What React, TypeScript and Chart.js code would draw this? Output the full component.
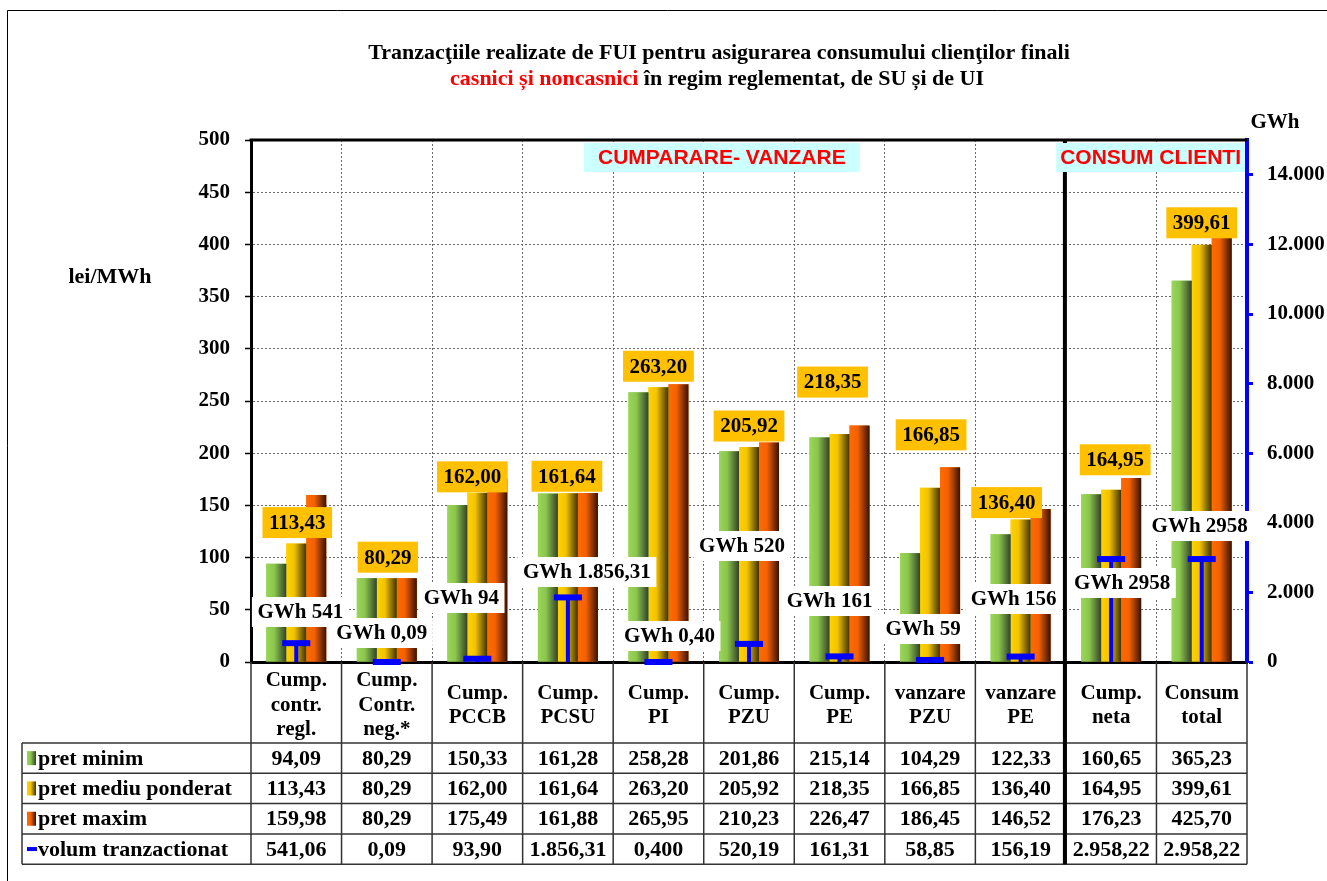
import React, { useEffect, useRef } from 'react';
import { Chart, registerables } from 'chart.js';

Chart.register(...registerables);

// ---------------- DATA ----------------
const categories: string[][] = [
  ['Cump.', 'contr.', 'regl.'],
  ['Cump.', 'Contr.', 'neg.*'],
  ['Cump.', 'PCCB'],
  ['Cump.', 'PCSU'],
  ['Cump.', 'PI'],
  ['Cump.', 'PZU'],
  ['Cump.', 'PE'],
  ['vanzare', 'PZU'],
  ['vanzare', 'PE'],
  ['Cump.', 'neta'],
  ['Consum', 'total'],
];
const pretMinim = [94.09, 80.29, 150.33, 161.28, 258.28, 201.86, 215.14, 104.29, 122.33, 160.65, 365.23];
const pretMediu = [113.43, 80.29, 162.0, 161.64, 263.2, 205.92, 218.35, 166.85, 136.4, 164.95, 399.61];
const pretMaxim = [159.98, 80.29, 175.49, 161.88, 265.95, 210.23, 226.47, 186.45, 146.52, 176.23, 425.7];
const volum = [541.06, 0.09, 93.9, 1856.31, 0.4, 520.19, 161.31, 58.85, 156.19, 2958.22, 2958.22];
const volumTableLabels = ['541,06', '0,09', '93,90', '1.856,31', '0,400', '520,19', '161,31', '58,85', '156,19', '2.958,22', '2.958,22'];
const volumBoxLabels = ['GWh 541', 'GWh 0,09', 'GWh 94', 'GWh 1.856,31', 'GWh 0,40', 'GWh 520', 'GWh 161', 'GWh 59', 'GWh 156', 'GWh 2958', 'GWh 2958'];
const seriesNames = ['pret minim', 'pret mediu ponderat', 'pret maxim', 'volum tranzactionat'];
const rightTicks = [0, 2000, 4000, 6000, 8000, 10000, 12000, 14000];
const leftAxisTitle = 'lei/MWh';
const rightAxisTitle = 'GWh';
const titleLine1 = 'Tranzacţiile realizate de FUI pentru asigurarea consumului clienţilor finali';
const titleLine2Red = 'casnici și noncasnici';
const titleLine2Black = ' în regim reglementat, de SU și de UI';
const sectionHeaders = [
  { text: 'CUMPARARE- VANZARE', at: 4.7 },
  { text: 'CONSUM CLIENTI', at: 9.45 },
];

// ---------------- LAYOUT / STYLE (not data) ----------------
// label offsets in px: [dx from category centre, dy from top of "mediu" bar]
const priceLabelOffsets = [[1, -21], [1, -21], [-5, -16], [-1, -17], [0, -21], [0, -21], [-7, -52], [1, -53], [-14, -17], [4, -30], [0, -22]];
// GWh label offsets in px: [dx from category centre, dy from axis base]
const volumLabelOffsets = [[4, -50], [-5, -29], [-16, -64], [19, -90], [11, -26], [-7, -116], [-10, -61], [-7, -33], [-7, -63], [11, -79], [-2, -136]];

const BASE_COLORS = ['#92D050', '#FFCC00', '#FF6600'];
const GRAD_STOPS = [
  ['#9AD657', '#8BC64D', '#34412A'],
  ['#FFD200', '#F3C300', '#3E3200'],
  ['#FF6A00', '#F46100', '#381100'],
];
const SERIF = '"Liberation Serif", "Times New Roman", serif';
const SANS = '"Liberation Sans", Arial, sans-serif';

function fmt(v: number, d = 2): string {
  const [i, f] = v.toFixed(d).split('.');
  return i.replace(/\B(?=(\d{3})+(?!\d))/g, '.') + (f ? ',' + f : '');
}

function grad(ctx: CanvasRenderingContext2D, x0: number, x1: number, stops: string[]) {
  const g = ctx.createLinearGradient(x0, 0, x1, 0);
  g.addColorStop(0, stops[0]);
  g.addColorStop(0.4, stops[1]);
  g.addColorStop(1, stops[2]);
  return g;
}

function textBox(ctx: CanvasRenderingContext2D, text: string, cx: number, cy: number, fill: string, padX: number, h: number) {
  const w = ctx.measureText(text).width + padX * 2;
  ctx.fillStyle = fill;
  ctx.fillRect(cx - w / 2, cy - h / 2, w, h);
  ctx.fillStyle = '#000';
  ctx.fillText(text, cx, cy + 1);
}

const decorPlugin = {
  id: 'decor',
  beforeDraw(chart: any) {
    const ctx = chart.ctx as CanvasRenderingContext2D;
    ctx.save();
    ctx.fillStyle = '#fff';
    ctx.fillRect(0, 0, chart.width, chart.height);
    ctx.strokeStyle = '#000';
    ctx.lineWidth = 1;
    ctx.beginPath();
    ctx.moveTo(7.5, chart.height);
    ctx.lineTo(7.5, 10.5);
    ctx.lineTo(chart.width, 10.5);
    ctx.stroke();
    ctx.restore();
  },
  beforeDatasetDraw(chart: any, args: any) {
    const meta = args.meta;
    if (meta.type !== 'line') return;
    const ctx = chart.ctx as CanvasRenderingContext2D;
    const y0 = chart.scales.y2.getPixelForValue(0);
    ctx.save();
    ctx.strokeStyle = '#0000FF';
    ctx.lineWidth = 4;
    meta.data.forEach((pt: any) => {
      const { x, y } = pt.getProps(['x', 'y'], true);
      ctx.beginPath();
      ctx.moveTo(x, y);
      ctx.lineTo(x, y0);
      ctx.stroke();
    });
    ctx.restore();
  },
  afterDatasetDraw(chart: any, args: any) {
    const meta = args.meta;
    if (meta.type !== 'bar') return;
    const ds = chart.data.datasets[args.index];
    const si = seriesNames.indexOf(ds.label);
    const stops = GRAD_STOPS[si];
    if (!stops) return;
    const ctx = chart.ctx as CanvasRenderingContext2D;
    ctx.save();
    meta.data.forEach((el: any) => {
      const { x, y, base, width } = el.getProps(['x', 'y', 'base', 'width'], true);
      const l = x - width / 2;
      ctx.fillStyle = grad(ctx, l, l + width, stops);
      ctx.fillRect(l, Math.min(y, base), width, Math.abs(base - y));
    });
    ctx.restore();
  },
  afterDraw(chart: any) {
    const ctx = chart.ctx as CanvasRenderingContext2D;
    const { chartArea } = chart;
    const xs = chart.scales.x;
    const ys = chart.scales.y;
    const n = categories.length;
    const cw = (xs.right - xs.left) / n;
    ctx.save();

    // top frame line
    ctx.strokeStyle = '#000';
    ctx.lineWidth = 3;
    ctx.beginPath();
    ctx.moveTo(chartArea.left - 1.5, chartArea.top);
    ctx.lineTo(chartArea.right, chartArea.top);
    ctx.stroke();

    // ---- table ----
    const top = chartArea.bottom;
    const catBottom = top + 81;
    const rowH = 30.3;
    const tableBottom = catBottom + rowH * 4;
    const tableLeft = 22;
    ctx.strokeStyle = '#333';
    ctx.lineWidth = 1.5;
    for (let k = 0; k <= 4; k++) {
      const yy = catBottom + k * rowH;
      ctx.beginPath();
      ctx.moveTo(tableLeft, yy);
      ctx.lineTo(xs.right, yy);
      ctx.stroke();
    }
    for (let i = 0; i <= n; i++) {
      const xx = xs.left + i * cw;
      ctx.beginPath();
      ctx.moveTo(xx, top);
      ctx.lineTo(xx, tableBottom);
      ctx.stroke();
    }
    ctx.beginPath();
    ctx.moveTo(tableLeft, catBottom);
    ctx.lineTo(tableLeft, tableBottom);
    ctx.stroke();

    // separator between sections
    ctx.strokeStyle = '#000';
    ctx.lineWidth = 4;
    const sepX = xs.left + 9 * cw - 1;
    ctx.beginPath();
    ctx.moveTo(sepX, chartArea.top);
    ctx.lineTo(sepX, tableBottom);
    ctx.stroke();

    // category labels
    ctx.fillStyle = '#000';
    ctx.textAlign = 'center';
    ctx.textBaseline = 'middle';
    ctx.font = `bold 21px ${SERIF}`;
    const catMid = top + 42.5;
    const lh = 24.5;
    categories.forEach((lines, i) => {
      const cx = xs.getPixelForValue(i);
      lines.forEach((ln, j) => {
        ctx.fillText(ln, cx, catMid + (j - (lines.length - 1) / 2) * lh + 1);
      });
    });

    // rows
    const rows: string[][] = [
      pretMinim.map((v) => fmt(v)),
      pretMediu.map((v) => fmt(v)),
      pretMaxim.map((v) => fmt(v)),
      volumTableLabels,
    ];
    ctx.font = `bold 22px ${SERIF}`;
    rows.forEach((vals, r) => {
      const cy = catBottom + rowH * (r + 0.5);
      if (r < 3) {
        ctx.fillStyle = grad(ctx, 27, 36, GRAD_STOPS[r]);
        ctx.fillRect(27, cy - 7, 9, 14);
      } else {
        ctx.fillStyle = '#0000FF';
        ctx.fillRect(27, cy - 2, 10, 4);
      }
      ctx.fillStyle = '#000';
      ctx.textAlign = 'left';
      ctx.fillText(seriesNames[r], 38, cy + 1);
      ctx.textAlign = 'center';
      vals.forEach((t, i) => {
        ctx.fillText(t, xs.getPixelForValue(i), cy + 1);
      });
    });

    // section headers
    ctx.font = `bold 21px ${SANS}`;
    sectionHeaders.forEach((h, idx) => {
      const w = ctx.measureText(h.text).width + (idx === 0 ? 28 : 8);
      let cx = xs.getPixelForValue(h.at);
      if (cx + w / 2 > chartArea.right - 2) cx = chartArea.right - 2 - w / 2;
      const by = chartArea.top + 3;
      ctx.fillStyle = '#CCFFFF';
      ctx.fillRect(cx - w / 2, by, w, 29);
      ctx.fillStyle = '#FF0000';
      ctx.fillText(h.text, cx, by + 15.5);
    });

    // price labels
    ctx.font = `bold 21px ${SERIF}`;
    pretMediu.forEach((v, i) => {
      const cx = xs.getPixelForValue(i) + priceLabelOffsets[i][0];
      const cy = ys.getPixelForValue(v) + priceLabelOffsets[i][1];
      textBox(ctx, fmt(v), cx, cy, '#FFC000', 6.5, 31);
    });

    // volume labels
    volumBoxLabels.forEach((t, i) => {
      const cx = xs.getPixelForValue(i) + volumLabelOffsets[i][0];
      const cy = chartArea.bottom + volumLabelOffsets[i][1];
      textBox(ctx, t, cx, cy, '#FFFFFF', 5.5, 30);
    });

    // axis titles
    ctx.fillStyle = '#000';
    ctx.font = `bold 22px ${SERIF}`;
    ctx.fillText(leftAxisTitle, 110, 277);
    ctx.font = `bold 21px ${SERIF}`;
    ctx.fillText(rightAxisTitle, 1275, 123);

    // title
    ctx.font = `bold 22px ${SERIF}`;
    ctx.fillText(titleLine1, 719, 53);
    const wr = ctx.measureText(titleLine2Red).width;
    const wb = ctx.measureText(titleLine2Black).width;
    const sx = 717 - (wr + wb) / 2;
    ctx.textAlign = 'left';
    ctx.fillStyle = '#FF0000';
    ctx.fillText(titleLine2Red, sx, 79);
    ctx.fillStyle = '#000';
    ctx.fillText(titleLine2Black, sx + wr, 79);

    ctx.restore();
  },
};

export default function App() {
  const ref = useRef<HTMLCanvasElement | null>(null);
  useEffect(() => {
    document.body.style.margin = '0';
    document.body.style.overflow = 'hidden';
    if (!ref.current) return;
    const tickFont = { family: SERIF, size: 21, weight: 'bold' as const };
    const chart = new Chart(ref.current, {
      type: 'bar',
      data: {
        labels: categories.map((c) => c.join(' ')),
        datasets: [
          { type: 'line', label: seriesNames[3], data: volum, yAxisID: 'y2', showLine: false, pointStyle: 'line', pointRadius: 14, pointHoverRadius: 14, pointBorderWidth: 6, borderColor: '#0000FF', backgroundColor: '#0000FF', clip: false as any, order: 0 },
          { label: seriesNames[0], data: pretMinim, yAxisID: 'y', backgroundColor: BASE_COLORS[0], categoryPercentage: 0.663, barPercentage: 1, order: 1 },
          { label: seriesNames[1], data: pretMediu, yAxisID: 'y', backgroundColor: BASE_COLORS[1], categoryPercentage: 0.663, barPercentage: 1, order: 1 },
          { label: seriesNames[2], data: pretMaxim, yAxisID: 'y', backgroundColor: BASE_COLORS[2], categoryPercentage: 0.663, barPercentage: 1, order: 1 },
        ] as any,
      },
      options: {
        responsive: false,
        animation: false,
        devicePixelRatio: 1,
        layout: { padding: { top: 140, bottom: 138, left: 0, right: 0 } },
        plugins: { legend: { display: false }, tooltip: { enabled: false }, title: { display: false } },
        scales: {
          x: {
            offset: true,
            grid: { display: true, offset: true, drawTicks: false, color: '#6a6a6a', lineWidth: 1 },
            border: { display: true, color: '#000', width: 3, dash: [2, 2] },
            ticks: { display: false },
            afterFit: (s: any) => { s.height = 81; },
          },
          y: {
            position: 'left',
            min: 0,
            max: 500,
            ticks: { stepSize: 50, font: tickFont, color: '#000', padding: 15 },
            grid: { color: '#6a6a6a', lineWidth: 1, tickColor: '#000', tickLength: 6, tickWidth: 1.5 },
            border: { color: '#000', width: 3, dash: [2, 2] },
            afterFit: (s: any) => { s.width = 251; },
          },
          y2: {
            position: 'right',
            min: 0,
            max: 15000,
            afterBuildTicks: (s: any) => { s.ticks = rightTicks.map((v) => ({ value: v })); },
            ticks: { font: tickFont, color: '#000', padding: 14, callback: (v: any) => fmt(Number(v), 0) },
            grid: { drawOnChartArea: false, tickColor: '#0000FF', tickLength: 6, tickWidth: 3 },
            border: { color: '#0000FF', width: 4 },
            afterFit: (s: any) => { s.width = 80; },
          },
        },
      } as any,
      plugins: [decorPlugin],
    });
    return () => chart.destroy();
  }, []);
  return <canvas ref={ref} width={1327} height={881} style={{ display: 'block' }} />;
}
